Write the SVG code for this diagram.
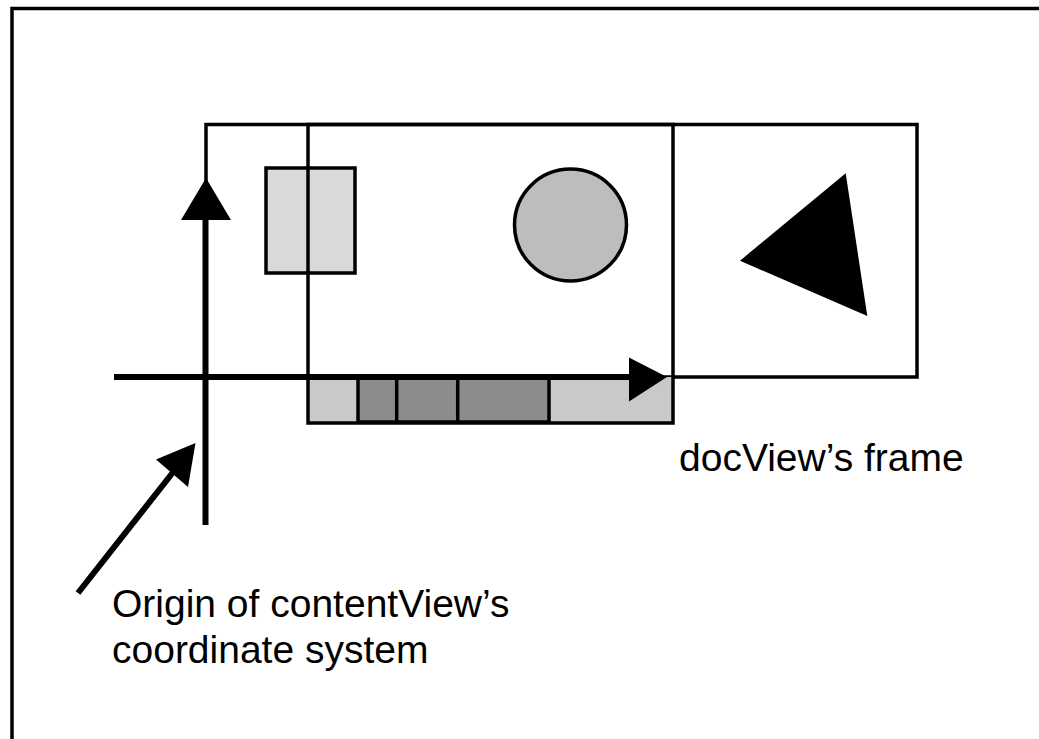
<svg xmlns="http://www.w3.org/2000/svg" width="1039" height="739" viewBox="0 0 1039 739">
  <style>
    .edge { fill: none; stroke: #000; stroke-width: 3.5; }
    .box { stroke: #000; stroke-width: 3.5; }
    .axis { stroke: #000; stroke-width: 6; fill: none; }
    .head { fill: #000; stroke: none; }
    .label { font-family: "Liberation Sans", Arial, Helvetica, sans-serif; font-size: 39px; fill: #000; }
  </style>
  <rect width="1039" height="739" fill="#fff"/>

  <!-- page border (top and left edges only) -->
  <g id="page">
    <path class="edge" d="M12,745 V8.5 H1045"/>
  </g>

  <!-- document view frame -->
  <g id="docView">
    <rect class="edge" x="206" y="124.5" width="711" height="252.5"/>
  </g>

  <!-- document contents -->
  <g id="lightRect">
    <rect class="box" x="266" y="168" width="89" height="105" fill="#d9d9d9"/>
  </g>
  <g id="circle">
    <circle class="box" cx="570.5" cy="225" r="56" fill="#bdbdbd"/>
  </g>
  <g id="triangle">
    <polygon points="845.7,173.3 740,260.7 867.3,316" fill="#000"/>
  </g>

  <!-- strip of cells along the bottom -->
  <g id="strip">
    <rect x="308" y="377" width="365" height="46" fill="#c9c9c9"/>
    <rect class="box" x="358" y="378" width="191" height="44" fill="#8c8c8c"/>
    <line class="box" x1="396.7" y1="378" x2="396.7" y2="422"/>
    <line class="box" x1="457.7" y1="378" x2="457.7" y2="422"/>
  </g>

  <!-- content view frame -->
  <g id="contentView">
    <rect class="edge" x="308" y="124.5" width="365" height="298.5"/>
  </g>

  <!-- coordinate axes and pointer -->
  <g id="connectors">
    <line class="axis" x1="205.5" y1="218" x2="205.5" y2="525"/>
    <polygon class="head" points="206,178 181,220 231,220"/>
    <line class="axis" x1="114" y1="377" x2="631" y2="377"/>
    <polygon class="head" points="629,357.5 667,377 629,401.5"/>
    <line class="axis" x1="78" y1="593" x2="174" y2="471"/>
    <polygon class="head" points="195.5,443 156,459.5 188,487"/>
  </g>

  <g id="labelDocView">
    <text class="label" x="679" y="471">docView’s frame</text>
  </g>
  <g id="labelOrigin">
    <text class="label" x="112" y="616.5">Origin of contentView’s</text>
    <text class="label" x="112" y="662.5">coordinate system</text>
  </g>
</svg>
